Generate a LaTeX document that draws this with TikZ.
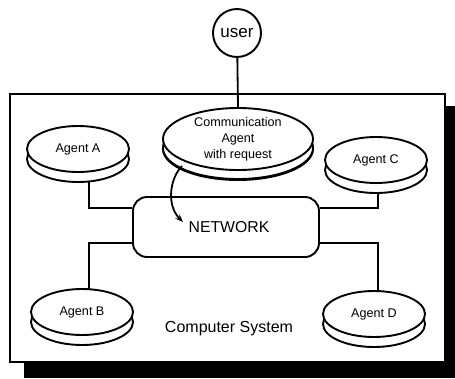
\documentclass[tikz,border=0pt]{standalone}
\usepackage{fontspec}
\setmainfont{Liberation Sans}
\usetikzlibrary{shapes.geometric,arrows.meta}
\begin{document}
\begin{tikzpicture}[x=1pt,y=-1pt,
  disk/.style={ellipse, draw, fill=white, line width=1.9pt, inner sep=0pt,
    minimum width=102pt, minimum height=46pt,
    font=\fontsize{12.6}{16}\selectfont, align=center,
    preaction={draw, fill=white, line width=1.9pt, transform canvas={yshift=-10pt}}},
  conn/.style={line width=1.8pt},
  netbox/.style={draw, fill=white, rounded corners=14pt, line width=1.9pt,
    minimum width=186pt, minimum height=60pt, font=\fontsize{15.8}{18}\selectfont},
  usernode/.style={circle, draw, fill=white, line width=1.9pt, minimum size=48pt,
    inner sep=0pt, font=\fontsize{17}{20}\selectfont}
]
\useasboundingbox (0,0) rectangle (455,378);

% system frame with its drop shadow
\fill[black] (24,106) rectangle (455,378);
\draw[fill=white, line width=2.2pt] (10,94) rectangle (445,362);

% nodes
\node[usernode] (user) at (237,33) {user};
\node[disk, minimum width=150pt, minimum height=62pt,
  preaction={draw, fill=white, line width=1.9pt, transform canvas={yshift=-9pt}}]
  (comm) at (238,139) {Communication\\Agent\\with request};
\node[disk] (A) at (78,149) {Agent A};
\node[disk] (C) at (376,160) {Agent C};
\node[disk] (B) at (82,312) {Agent B};
\node[disk] (D) at (374,314) {Agent D};
\node[netbox] (net) at (226,227) {\hspace*{6pt}\raisebox{-5pt}{NETWORK}};
\node[font=\fontsize{16}{19}\selectfont] (sys) at (229,329) {Computer System};

% links to the network
\draw[conn] (user) -- (comm.north);
\draw[conn] ([xshift=11pt,yshift=-9pt]A.south) |- (net.west |- 0,208);
\draw[conn] ([xshift=2pt,yshift=-9pt]C.south) |- (net.east |- 0,208);
\draw[conn] (net.west |- 0,243) -| ([xshift=7pt,yshift=-1pt]B.north);
\draw[conn] (net.east |- 0,243) -| ([xshift=4pt,yshift=-1pt]D.north);

% request passed to the network
\coordinate (req) at ([xshift=-56pt,yshift=-27pt]comm.center);
\draw[conn, -{Stealth[length=8pt,width=6pt]}] (req) .. controls (170,178) and (166,205) .. (183,222);
\end{tikzpicture}
\end{document}
